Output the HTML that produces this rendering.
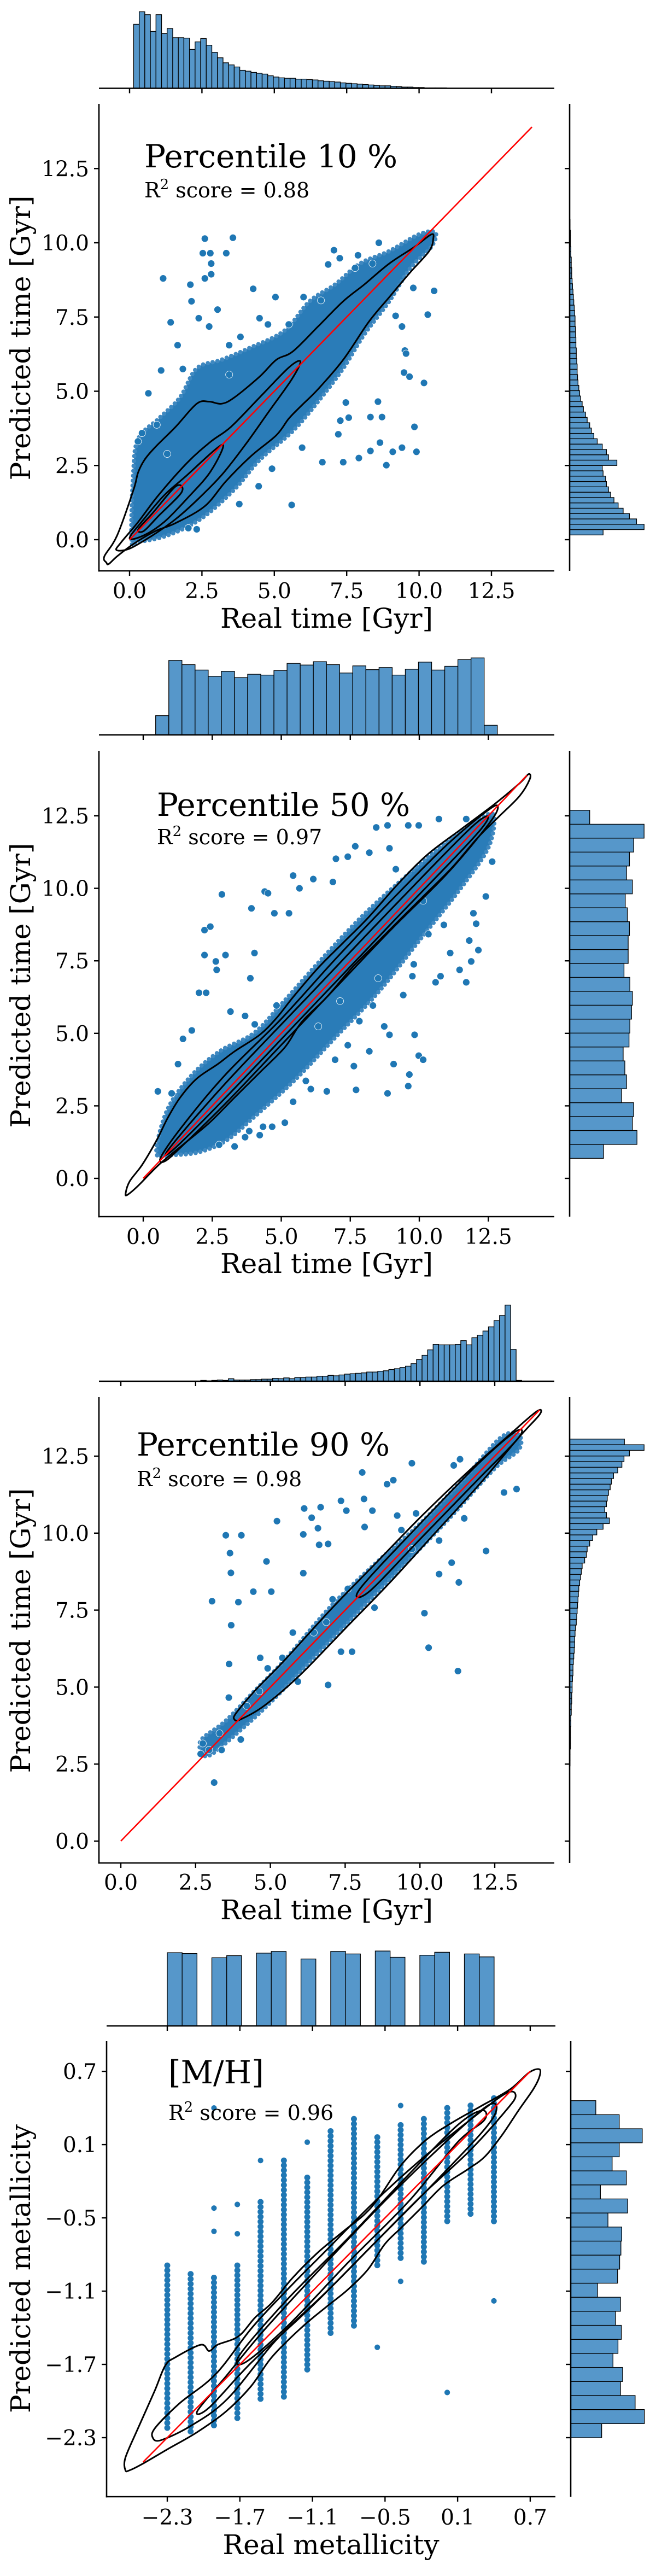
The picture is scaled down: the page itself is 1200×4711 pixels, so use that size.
<!DOCTYPE html>
<html><head><meta charset="utf-8">
<style>
html,body{margin:0;padding:0;background:#fff;}
svg{display:block;}
text{font-family:"DejaVu Serif","Liberation Serif",serif;fill:#000;}
</style></head>
<body>
<svg id="fig" width="1200" height="4711" viewBox="0 0 1200 4711" xmlns="http://www.w3.org/2000/svg"></svg>
<script>
// ================= DATA =================
// Panel 1 (Percentile 10 %)
const p1TopHistStart = 0.14, p1TopHistWidth = 0.193;
const p1TopHist = [153,183,176,136,176,131,143,121,121,120,93,111,119,103,86,73,61,56,51,43,41,38,36,34,30,27,25,24,24,22,22,21,20,18,17,16,15,13,12,11,10,9,8,7,6,6,5,4,3,3,2,2,1,1,1,1];
const p1RightHistStart = 0.16, p1RightHistWidth = 0.18;
const p1RightHist = [80,178,160,143,128,116,106,98,93,88,86,80,78,113,93,88,78,66,58,52,48,42,38,33,30,26,24,22,20,19,18,18,17,16,16,15,15,14,14,13,13,12,11,10,9,8,7,6,5,5,4,4,3,3,2,2,2,1,1];
const p1BandX = [0.07,0.12,0.29,1.01,1.74,2.32,3.18,4.2,5.35,6.22,7.09,7.96,8.97,9.99,10.56,10.42,9.7,8.97,8.1,7.38,6.51,5.64,4.49,3.62,2.46,1.3,0.29];
const p1BandY = [0,2.11,3.38,4.08,4.79,5.77,6.06,6.48,7.04,8.03,8.59,9.3,9.72,10.28,10.35,9.86,9.15,8.03,6.9,5.77,4.65,3.66,2.68,1.69,0.7,0.14,-0.07];
const p1PtX = [2.6,3.57,2.53,2.79,2.82,3.34,2.6,2.82,1.16,2.1,4.27,5.04,6.01,6.61,7.06,7.26,7.79,7.89,8.61,6.86,8.39,10.52,10.3,9.8,9.41,9.19,9.51,9.55,9.48,9.67,10.17,9.84,9.91,9.41,9.09,8.87,8.32,8.65,7.92,7.38,6.66,5.6,8.58,8.72,8.32,7.57,7.47,7.28,7.21,5.96,4.92,4.46,3.79,2.32,2.03,0.65,1.42,1.66,1.84,1.09,3.44,3.83,3.44,4.49,4.78,5.5,0.29,0.43,0.94,1.3,2.14,2.39,2.75,3.04];
const p1PtY = [10.14,10.17,9.65,9.65,9.3,9.65,8.8,8.94,8.8,8.59,8.45,8.17,8.17,8.06,9.75,9.48,9.15,9.58,10.0,9.27,9.3,8.38,7.58,8.48,7.18,7.54,6.37,6.27,5.63,5.49,5.28,3.8,2.96,3.1,2.96,2.51,2.99,3.27,2.75,2.61,2.61,1.17,4.65,4.13,4.13,4.11,4.62,4.01,3.55,3.1,2.39,1.8,1.2,0.35,0.39,4.93,7.32,6.55,5.75,5.7,5.56,6.83,6.55,7.46,7.25,7.25,3.31,3.59,3.87,2.89,8.03,7.46,7.18,7.75];
const p1C1X = [-0.8,-0.87,-0.43,0.14,0.29,0.51,0.87,1.59,2.32,2.75,3.18,3.62,4.49,5.07,5.64,6.51,7.38,8.1,8.97,9.84,10.42,10.49,10.35,9.7,8.97,8.25,7.38,6.51,5.93,5.5,5.07,4.2,3.33,2.6,1.59,0.87,0.14,-0.43,-0.72];
const p1C1Y = [-0.77,-0.56,0.14,1.69,2.25,2.68,3.1,3.8,4.58,4.65,4.58,4.79,5.49,6.06,6.34,7.18,8.03,8.59,9.3,9.86,10.28,10.14,9.72,9.01,8.17,7.32,6.06,5.07,4.51,4.08,3.52,2.82,1.97,1.13,0.56,0.28,-0.14,-0.56,-0.82];
const p1C2X = [-0.45,-0.3,0.3,1.0,2.0,2.8,3.5,4.5,5.5,5.9,5.6,4.8,4.0,3.2,2.4,1.6,0.8,0.0];
const p1C2Y = [-0.35,-0.1,0.6,1.5,2.6,3.3,3.8,4.8,5.8,6.0,5.4,4.3,3.2,2.2,1.4,0.7,0.15,-0.3];
const p1C3X = [0.0,0.5,1.2,1.9,3.2,2.8,2.0,1.2,0.5];
const p1C3Y = [0.05,0.7,1.5,2.1,3.2,2.3,1.4,0.6,0.15];
const p1C4X = [0.3,0.8,1.6,1.8,1.0,0.5];
const p1C4Y = [0.35,0.9,1.8,1.6,0.8,0.3];
const p1Line = [0, 13.9];

// Panel 2 (Percentile 50 %)
const p2TopHistStart = 0.45, p2TopHistWidth = 0.476;
const p2TopHist = [46,178,168,155,140,152,137,145,143,154,171,167,175,168,148,165,156,161,143,157,174,155,164,180,184,23];
const p2RightHistStart = 0.69, p2RightHistWidth = 0.48;
const p2RightHist = [81,161,150,153,124,136,132,128,142,144,148,150,144,130,140,140,143,138,133,150,136,143,153,178,48];
const p2BandX = [0.5,0.6,1.0,1.8,2.8,4,5,6.5,8,9.5,11,12.2,12.7,12.5,11.5,10,8.5,7,5.5,4,3,2,1];
const p2BandY = [0.8,1.6,2.6,3.6,4.4,5.0,6.0,7.6,9.1,10.4,11.6,12.4,12.5,11.4,10.0,8.2,6.4,4.9,3.4,2.1,1.3,0.9,0.8];
const p2PtX = [2.85,2.22,2.43,2.22,2.63,2.66,2.98,3.92,4.03,4.4,4.52,4.75,5.28,5.43,5.66,6.16,6.87,6.98,7.41,7.68,8.19,8.44,8.85,8.92,9.15,9.6,9.98,10.71,11.7,12.64,12.41,11.96,12.06,11.81,12.14,11.88,11.7,11.46,11.12,10.77,10.59,10.89,10.33,10.14,9.8,9.75,9.42,9.83,9.98,10.14,9.64,9.6,9.07,8.85,8.19,7.63,7.71,6.95,6.65,6.07,5.89,5.43,5.13,4.67,4.34,4.22,3.84,3.69,3.31,2.75,8.32,7.83,8.73,8.92,7.41,6.34,7.13,8.51,0.53,1.03,1.26,1.44,1.76,2.02,2.28,3.16,3.69,4.04,4.83,3.88];
const p2PtY = [9.79,8.56,8.68,7.7,7.48,7.19,7.7,9.31,7.77,9.89,9.83,9.14,9.14,10.44,10.0,10.32,10.22,11.02,11.09,11.45,11.23,12.1,12.17,11.38,10.66,12.17,12.17,12.39,12.39,10.92,9.72,9.14,8.78,8.2,7.87,7.48,6.76,7.19,7.77,6.97,6.76,8.74,8.42,9.57,7.38,6.97,6.32,4.95,4.23,4.09,3.58,3.18,3.94,2.93,4.38,3.87,3.05,4.09,3.0,3.08,3.36,2.64,1.92,1.78,1.78,1.49,1.63,1.42,1.1,1.16,5.96,5.42,5.24,4.95,4.59,5.24,6.11,6.9,3.0,2.93,3.94,4.81,5.1,6.4,6.4,5.75,5.6,5.31,5.96,6.9];
const p2C1X = [-0.64,-0.49,-0.03,0.5,0.88,1.34,1.94,2.7,3.31,4.22,4.83,5.43,6.34,7.25,8.16,9.23,10.29,11.5,12.72,13.63,13.96,14.0,13.63,12.87,12.11,11.2,10.29,9.38,8.47,7.56,6.65,5.74,5.13,4.22,3.31,2.4,1.49,0.58,-0.18,-0.56];
const p2C1Y = [-0.53,-0.1,0.48,1.34,2.07,2.79,3.44,3.94,4.38,4.95,5.53,6.25,7.26,8.13,9.0,10.15,11.16,12.03,12.9,13.62,13.94,13.76,13.18,12.46,11.74,10.73,9.86,9.0,8.13,7.26,6.25,5.39,4.52,3.65,2.79,1.92,1.2,0.48,-0.25,-0.56];
const p2C2X = [0.65,1.5,3,5,7,9,11,12.5,12.85,12.5,11,9,7,5,3,1.5,0.8];
const p2C2Y = [0.75,1.9,3.6,5.5,7.6,9.6,11.5,12.7,12.8,12.2,10.5,8.6,6.6,4.6,2.6,1.2,0.6];
const p2C3X = [1.0,3,6,9,12,12.2,9,6,3,1.1];
const p2C3Y = [1.1,3.3,6.3,9.3,12.2,12.0,8.8,5.8,2.8,1.0];
const p2Line = [0, 13.9];

// Panel 3 (Percentile 90 %)
const p3TopHistStart = 2.67, p3TopHistWidth = 0.185;
const p3TopHist = [2,1,2,3,2,6,3,3,3,4,4,5,5,7,6,8,6,9,9,10,10,12,12,14,13,15,17,18,19,20,22,22,24,25,28,30,33,36,42,52,62,75,88,87,87,87,88,97,87,104,110,120,130,145,157,182,76,2];
const p3RightHistStart = 2.44, p3RightHistWidth = 0.183;
const p3RightHist = [1,1,1,2,2,2,2,3,3,4,4,5,5,6,6,7,8,8,9,10,11,12,12,13,14,16,17,18,19,20,21,22,24,26,28,30,36,40,42,48,55,65,80,95,88,84,88,90,93,97,100,105,115,125,130,143,178,131];
const p3BandX = [2.7,2.7,3.5,4.5,5.5,7,8.5,10,11.5,12.7,13.3,13.3,12.5,11,9.5,8,6.5,5,4,3];
const p3BandY = [2.9,3.3,3.9,4.9,5.9,7.6,9.0,10.3,11.8,13.1,13.2,12.7,12.1,10.5,9.0,7.5,6.0,4.5,3.6,2.8];
const p3PtX = [3.51,4.03,3.65,3.68,3.05,3.93,3.69,3.62,3.61,3.12,4.43,4.87,5.03,5.22,6.13,6.68,6.38,6.59,6.1,6.63,6.93,6.1,7.36,7.54,8.07,8.13,8.15,8.41,8.9,9.11,9.73,11.13,11.34,12.21,11.06,11.3,10.64,10.15,10.29,11.27,8.48,7.73,7.36,6.93,5.92,4.66,12.81,13.23,11.48,10.64,9.38,9.73,9.87,9.24,7.59,7.08,6.87,6.45,5.75,5.4,4.91,4.63,4.21,4.01,3.3,2.74,2.67,2.95,3.37];
const p3PtY = [9.93,9.93,9.35,8.71,7.79,7.76,7.01,5.75,4.66,1.9,8.1,9.08,8.1,10.39,10.8,10.84,10.5,10.16,9.96,9.62,9.65,8.7,11.05,10.73,11.97,11.11,10.2,10.73,11.59,11.72,12.27,12.2,12.4,9.42,9.04,8.4,8.67,7.4,6.28,5.52,7.58,6.15,6.15,5.07,5.18,5.95,11.32,11.43,10.48,9.76,10.1,9.48,10.64,10.57,8.19,7.85,7.11,6.77,6.77,5.95,5.61,4.86,4.39,3.3,3.5,3.17,2.83,2.96,2.96];
const p3C1X = [3.8,3.85,4.5,5.5,7,8.5,10,11.5,13,13.9,14,13.3,12,10.5,9,7.5,6,4.8,4.0];
const p3C1Y = [3.95,4.15,4.9,5.9,7.5,9.0,10.5,11.9,13.2,13.95,13.85,13.1,11.6,10.0,8.4,6.9,5.4,4.4,3.95];
const p3C2X = [8,10,12,13.2,13.3,12,10,8.3];
const p3C2Y = [8.2,10.3,12.3,13.3,13.1,11.8,9.8,8.1];
const p3Line = [0, 14.0];

// Panel 4 ([M/H])
const p4TopHistStart = -2.3, p4TopHistWidth = 0.1228;
const p4TopHist = [175,173,0,163,168,0,174,178,0,160,0,178,172,0,179,164,0,169,176,0,172,165];
const p4RightHistStart = -2.3, p4RightHistWidth = 0.115;
const p4RightHist = [74,176,154,119,124,101,113,121,107,119,64,112,117,120,122,89,136,71,133,99,116,171,116,60];
const p4ColX = [-2.3,-2.107,-1.914,-1.721,-1.529,-1.336,-1.143,-0.95,-0.757,-0.564,-0.371,-0.179,0.014,0.207,0.4];
const p4ColTop = [-0.89,-0.96,-0.99,-0.89,-0.37,-0.03,-0.17,0.21,0.31,0.16,0.26,0.31,0.4,0.42,0.48];
const p4ColBottom = [-2.26,-2.29,-2.22,-2.16,-2.01,-1.97,-1.76,-1.46,-1.39,-0.91,-0.85,-0.89,-0.54,-0.49,-0.54];
const p4PtX = [-1.914,-1.914,-1.914,-1.721,-1.721,-1.529,-1.143,-0.564,-0.371,-0.371,0.014,0.4];
const p4PtY = [-0.42,-0.61,0.4,-0.39,-0.63,-0.03,0.12,-1.56,0.42,-1.02,-1.93,-1.18];
const p4C1X = [-2.646,-2.646,-2.542,-2.404,-2.317,-2.231,-2.023,-1.954,-1.885,-1.712,-1.574,-1.436,-1.263,-1.056,-0.848,-0.675,-0.554,-0.364,-0.157,0.051,0.293,0.534,0.69,0.776,0.776,0.725,0.604,0.465,0.327,0.189,-0.019,-0.191,-0.364,-0.503,-0.641,-0.814,-0.987,-1.194,-1.436,-1.609,-1.816,-2.058,-2.3,-2.507,-2.611];
const p4C1Y = [-2.567,-2.464,-2.224,-1.916,-1.71,-1.641,-1.539,-1.59,-1.539,-1.47,-1.316,-1.196,-0.99,-0.784,-0.613,-0.476,-0.339,-0.064,0.141,0.278,0.415,0.553,0.69,0.717,0.655,0.553,0.381,0.175,0.004,-0.099,-0.236,-0.408,-0.579,-0.716,-0.922,-1.093,-1.23,-1.401,-1.641,-1.881,-2.087,-2.258,-2.396,-2.516,-2.567];
const p4C2X = [-2.42,-2.4,-2.2,-1.9,-1.6,-1.3,-1.0,-0.6,-0.2,0.2,0.5,0.58,0.5,0.2,-0.2,-0.6,-1.0,-1.4,-1.8,-2.1,-2.35];
const p4C2Y = [-2.3,-2.22,-2.02,-1.78,-1.4,-1.08,-0.78,-0.38,-0.02,0.3,0.52,0.5,0.38,0.05,-0.32,-0.72,-1.12,-1.5,-1.98,-2.2,-2.32];
const p4C3X = [-2.05,-1.8,-1.5,-1.0,-0.5,0,0.35,0.42,0.3,-0.1,-0.6,-1.1,-1.6,-1.95];
const p4C3Y = [-2.08,-1.78,-1.42,-0.88,-0.36,0.12,0.42,0.38,0.2,-0.22,-0.72,-1.22,-1.68,-2.05];
const p4C4X = [-1.7,-1.3,-0.8,-0.3,0.1,0.3,0.32,0.1,-0.3,-0.8,-1.3,-1.65];
const p4C4Y = [-1.62,-1.16,-0.66,-0.14,0.26,0.38,0.3,0.12,-0.36,-0.86,-1.38,-1.68];
const p4Line = [-2.5, 0.7];

const timeTicks = [0,2.5,5,7.5,10,12.5];
const timeTickLabels = ["0.0","2.5","5.0","7.5","10.0","12.5"];
const metTicks = [-2.3,-1.7,-1.1,-0.5,0.1,0.7];
const metTickLabels = ["\u22122.3","\u22121.7","\u22121.1","\u22120.5","0.1","0.7"];

// ================= RENDER =================
const NS = "http://www.w3.org/2000/svg";
const fig = document.getElementById('fig');
const HS = 1/1.307; // histogram value -> px
function el(tag, parent, attrs){
  const e = document.createElementNS(NS, tag);
  for (const k in attrs) e.setAttribute(k, attrs[k]);
  parent.appendChild(e);
  return e;
}
function smoothPath(xs, ys, sx, sy){
  const n = xs.length; const P = [];
  for (let i=0;i<n;i++) P.push([sx(xs[i]), sy(ys[i])]);
  let d = "M"+P[0][0].toFixed(1)+","+P[0][1].toFixed(1);
  for (let i=0;i<n;i++){
    const p0=P[(i-1+n)%n],p1=P[i],p2=P[(i+1)%n],p3=P[(i+2)%n];
    const c1=[p1[0]+(p2[0]-p0[0])/6,p1[1]+(p2[1]-p0[1])/6];
    const c2=[p2[0]-(p3[0]-p1[0])/6,p2[1]-(p3[1]-p1[1])/6];
    d+=" C"+c1[0].toFixed(1)+","+c1[1].toFixed(1)+" "+c2[0].toFixed(1)+","+c2[1].toFixed(1)+" "+p2[0].toFixed(1)+","+p2[1].toFixed(1);
  }
  return d+"Z";
}

function panel(cfg){
  const g = el('g', fig, {});
  
  
  const sx = v => cfg.xpx + (v - cfg.xref)*cfg.xk;
  const sy = v => cfg.ypx - (v - cfg.yref)*cfg.yk;
  const L=cfg.left,R=cfg.right,T=cfg.top,B=cfg.bottom;

  const th = el('g', g, {});
  
  
  cfg.topHist.forEach((v,i)=>{
    if (v<=0) return;
    const x0 = sx(cfg.topStart + i*cfg.topW), x1 = sx(cfg.topStart + (i+1)*cfg.topW);
    const h = v*HS;
    const r = el('rect', th, {x:x0, y:cfg.topBase-h, width:x1-x0, height:h, fill:'#5697ca', stroke:'#000', 'stroke-width':1.3});
    
    
  });
  const tb = el('line', th, {x1:L, x2:R, y1:cfg.topBase, y2:cfg.topBase, stroke:'#000','stroke-width':2.6});
  
  
  cfg.xticks.forEach(t=>{
    const tk = el('line', th, {x1:sx(t), x2:sx(t), y1:cfg.topBase, y2:cfg.topBase+9, stroke:'#000','stroke-width':2.4});
    
    
  });

  const rh = el('g', g, {});
  
  
  cfg.rightHist.forEach((v,i)=>{
    if (v<=0) return;
    const y0 = sy(cfg.rightStart + (i+1)*cfg.rightW), y1 = sy(cfg.rightStart + i*cfg.rightW);
    const w = v*HS;
    const r = el('rect', rh, {x:cfg.rightBase, y:y0, width:w, height:y1-y0, fill:'#5697ca', stroke:'#000','stroke-width':1.3});
    
    
  });
  const rb = el('line', rh, {x1:cfg.rightBase, x2:cfg.rightBase, y1:T, y2:B, stroke:'#000','stroke-width':2.6});
  
  
  cfg.yticks.forEach(t=>{
    const tk = el('line', rh, {x1:cfg.rightBase-9, x2:cfg.rightBase, y1:sy(t), y2:sy(t), stroke:'#000','stroke-width':2.4});
    
    
  });

  const sc = el('g', g, {});
  
  
  if (cfg.bandX){
    const band = el('path', sc, {d:smoothPath(cfg.bandX,cfg.bandY,sx,sy), fill:'#2a7cb8', stroke:'#3f88c0','stroke-width':8,'stroke-dasharray':'0 9','stroke-linecap':'round'});
    
    
  }
  if (cfg.colX){
    cfg.colX.forEach((x,i)=>{
      const c = el('line', sc, {x1:sx(x), x2:sx(x), y1:sy(cfg.colTop[i]), y2:sy(cfg.colBottom[i]), stroke:'#1f77b4','stroke-width':11,'stroke-linecap':'round','stroke-dasharray':'0 9'});
      
      
    });
  }
  cfg.ptX.forEach((x,i)=>{
    const c = el('circle', sc, {cx:sx(x), cy:sy(cfg.ptY[i]), r:cfg.ptR||6.5, fill:'#1f77b4', stroke:'#fff','stroke-width':0.8});
    
    
  });

  const cg = el('g', g, {});
  
  
  cfg.contours.forEach(c=>{
    const p = el('path', cg, {d:smoothPath(c[0],c[1],sx,sy), fill:'none', stroke:'#000','stroke-width':3});
    
    
  });

  const ln = el('line', g, {x1:sx(cfg.line[0]), y1:sy(cfg.line[0]), x2:sx(cfg.line[1]), y2:sy(cfg.line[1]), stroke:'#ff0000','stroke-width':2.6});
  
  

  const ls = el('line', g, {x1:L, x2:L, y1:T, y2:B+1.3, stroke:'#000','stroke-width':2.6});
  
  
  const bs = el('line', g, {x1:L-1.3, x2:R, y1:B, y2:B, stroke:'#000','stroke-width':2.6});
  
  

  cfg.xticks.forEach((t,i)=>{
    const tk = el('line', g, {x1:sx(t), x2:sx(t), y1:B, y2:B+9, stroke:'#000','stroke-width':2.4});
    
    
    const tx = el('text', g, {x:sx(t), y:cfg.xtickBase, 'font-size':39, 'text-anchor':'middle'});
    tx.textContent = cfg.xtickLabels[i];
    
    
  });
  cfg.yticks.forEach((t,i)=>{
    const tk = el('line', g, {x1:L-9, x2:L, y1:sy(t), y2:sy(t), stroke:'#000','stroke-width':2.4});
    
    
    const tx = el('text', g, {x:L-18, y:sy(t)+14, 'font-size':39, 'text-anchor':'end'});
    tx.textContent = cfg.ytickLabels[i];
    
    
  });

  const xl = el('text', g, {x:(L+R)/2, y:cfg.xlabelBase, 'font-size':50, 'text-anchor':'middle'});
  xl.textContent = cfg.xlabel;
  
  
  const yl = el('text', g, {x:0, y:0, 'font-size':50, 'text-anchor':'middle', transform:'translate(55,'+cfg.ylabelY+') rotate(-90)'});
  yl.textContent = cfg.ylabel;
  
  

  const ti = el('text', g, {x:cfg.titleX, y:cfg.titleY, 'font-size':58});
  ti.textContent = cfg.title;
  
  
  const r2 = el('text', g, {x:cfg.titleX, y:cfg.r2Y, 'font-size':38});
  
  
  const a = el('tspan', r2, {}); a.textContent = 'R';
  const b = el('tspan', r2, {dy:-15, 'font-size':26}); b.textContent = '2';
  const c = el('tspan', r2, {dy:15}); c.textContent = ' score = ' + cfg.r2;
}

panel({name:'panel-percentile-10', xref:0, xpx:237, xk:52.96, yref:0, ypx:987, yk:54.3,
  left:181, right:1014, top:190, bottom:1044, topBase:161.5, rightBase:1042,
  xticks:timeTicks, xtickLabels:timeTickLabels, yticks:timeTicks, ytickLabels:timeTickLabels,
  topHist:p1TopHist, topStart:p1TopHistStart, topW:p1TopHistWidth,
  rightHist:p1RightHist, rightStart:p1RightHistStart, rightW:p1RightHistWidth,
  bandX:p1BandX, bandY:p1BandY, ptX:p1PtX, ptY:p1PtY,
  contours:[[p1C1X,p1C1Y],[p1C2X,p1C2Y],[p1C3X,p1C3Y],[p1C4X,p1C4Y]], line:p1Line,
  xtickBase:1094, xlabelBase:1148, xlabel:'Real time [Gyr]', ylabel:'Predicted time [Gyr]', ylabelY:618,
  title:'Percentile 10 %', titleX:264, titleY:306, r2Y:361, r2:'0.88'});

panel({name:'panel-percentile-50', xref:0, xpx:262, xk:50.5, yref:0, ypx:2155, yk:53.04,
  left:181, right:1014, top:1373, bottom:2225, topBase:1344, rightBase:1042,
  xticks:timeTicks, xtickLabels:timeTickLabels, yticks:timeTicks, ytickLabels:timeTickLabels,
  topHist:p2TopHist, topStart:p2TopHistStart, topW:p2TopHistWidth,
  rightHist:p2RightHist, rightStart:p2RightHistStart, rightW:p2RightHistWidth,
  bandX:p2BandX, bandY:p2BandY, ptX:p2PtX, ptY:p2PtY,
  contours:[[p2C1X,p2C1Y],[p2C2X,p2C2Y],[p2C3X,p2C3Y]], line:p2Line,
  xtickBase:2275, xlabelBase:2328, xlabel:'Real time [Gyr]', ylabel:'Predicted time [Gyr]', ylabelY:1802,
  title:'Percentile 50 %', titleX:287, titleY:1492, r2Y:1544, r2:'0.97'});

panel({name:'panel-percentile-90', xref:0, xpx:221, xk:54.72, yref:0, ypx:3367, yk:56.32,
  left:181, right:1014, top:2555, bottom:3407, topBase:2526, rightBase:1042,
  xticks:timeTicks, xtickLabels:timeTickLabels, yticks:timeTicks, ytickLabels:timeTickLabels,
  topHist:p3TopHist, topStart:p3TopHistStart, topW:p3TopHistWidth,
  rightHist:p3RightHist, rightStart:p3RightHistStart, rightW:p3RightHistWidth,
  bandX:p3BandX, bandY:p3BandY, ptX:p3PtX, ptY:p3PtY,
  contours:[[p3C1X,p3C1Y],[p3C2X,p3C2Y]], line:p3Line,
  xtickBase:3456, xlabelBase:3510, xlabel:'Real time [Gyr]', ylabel:'Predicted time [Gyr]', ylabelY:2982,
  title:'Percentile 90 %', titleX:250, titleY:2662, r2Y:2718, r2:'0.98'});

panel({name:'panel-metallicity', xref:-2.3, xpx:306, xk:221.3, yref:-2.3, ypx:4458, yk:223.3,
  left:195, right:1016, top:3733, bottom:4566, topBase:3705, rightBase:1044,
  xticks:metTicks, xtickLabels:metTickLabels, yticks:metTicks, ytickLabels:metTickLabels,
  topHist:p4TopHist, topStart:p4TopHistStart, topW:p4TopHistWidth,
  rightHist:p4RightHist, rightStart:p4RightHistStart, rightW:p4RightHistWidth,
  colX:p4ColX, colTop:p4ColTop, colBottom:p4ColBottom, ptX:p4PtX, ptY:p4PtY, ptR:5.5,
  contours:[[p4C1X,p4C1Y],[p4C2X,p4C2Y],[p4C3X,p4C3Y],[p4C4X,p4C4Y]], line:p4Line,
  xtickBase:4617, xlabelBase:4671, xlabel:'Real metallicity', ylabel:'Predicted metallicity', ylabelY:4149,
  title:'[M/H]', titleX:308, titleY:3810, r2Y:3877, r2:'0.96'});
</script>
</body></html>
